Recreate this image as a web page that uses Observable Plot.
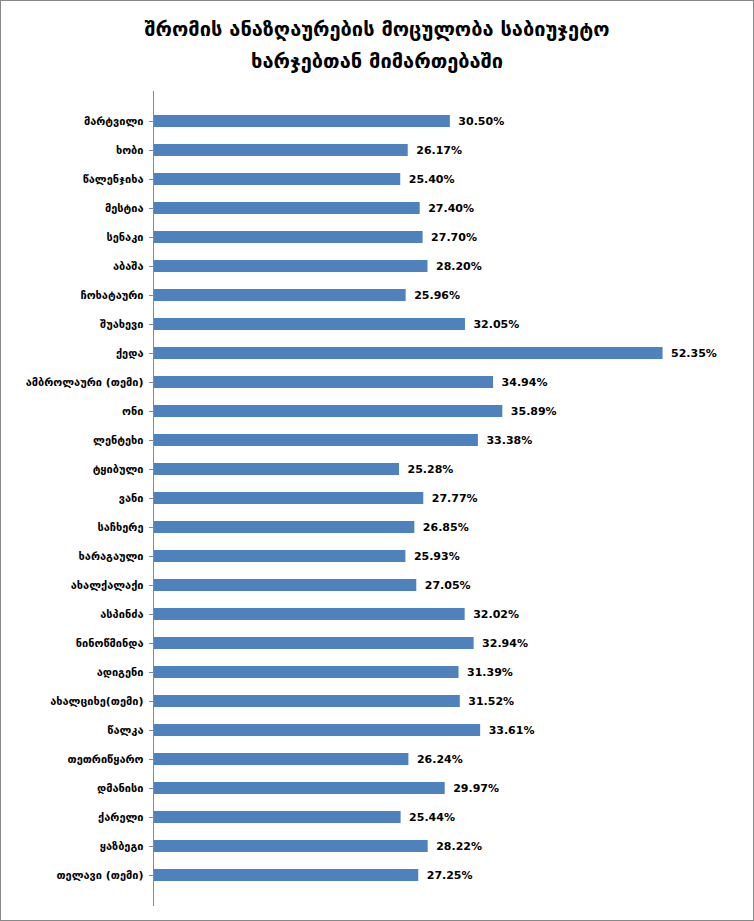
<!DOCTYPE html>
<html><head><meta charset="utf-8">
<script src="https://cdn.jsdelivr.net/npm/d3@7"></script>
<script src="https://cdn.jsdelivr.net/npm/@observablehq/plot@0.6"></script>
<style>
body{margin:0;background:#fff;font-family:"DejaVu Sans",sans-serif;}
#wrap{position:relative;width:752px;height:919px;border:1px solid #888;}
#title{position:absolute;top:12px;left:0;width:752px;text-align:center;font-weight:bold;font-size:20px;line-height:32px;color:#000;}
#chart{position:absolute;top:0;left:0;}
</style></head><body>
<div id="wrap"><div id="chart"></div><div id="title">შრომის ანაზღაურების მოცულობა საბიუჯეტო<br>ხარჯებთან მიმართებაში</div></div>
<script>
const names=["მარტვილი","ხობი","წალენჯიხა","მესტია","სენაკი","აბაშა","ჩოხატაური","შუახევი","ქედა","ამბროლაური (თემი)","ონი","ლენტეხი","ტყიბული","ვანი","საჩხერე","ხარაგაული","ახალქალაქი","ასპინძა","ნინოწმინდა","ადიგენი","ახალციხე(თემი)","წალკა","თეთრიწყარო","დმანისი","ქარელი","ყაზბეგი","თელავი (თემი)"];
const values=[30.50,26.17,25.40,27.40,27.70,28.20,25.96,32.05,52.35,34.94,35.89,33.38,25.28,27.77,26.85,25.93,27.05,32.02,32.94,31.39,31.52,33.61,26.24,29.97,25.44,28.22,27.25];
const data=names.map((n,i)=>({n,v:values[i]}));
const p=Plot.plot({width:752,height:919,marginLeft:152,marginRight:16,marginTop:90,marginBottom:14,
x:{domain:[0,60],axis:null},
y:{domain:names,padding:0.58,label:null,tickSize:0},
style:{fontFamily:"DejaVu Sans",fontSize:"11px",fontWeight:"bold",color:"#000"},
marks:[
Plot.barX(data,{x:"v",y:"n",fill:"#4f81bd"}),
Plot.text(data,{x:"v",y:"n",text:d=>d.v.toFixed(2)+"%",dx:8,textAnchor:"start",fontWeight:"bold",fontSize:11}),
Plot.ruleX([0],{stroke:"#888"}),
Plot.axisY({tickSize:4,tickPadding:6,fontWeight:"bold",fontSize:11,stroke:"#888"})
]});
document.getElementById("chart").append(p);
</script></body></html>
